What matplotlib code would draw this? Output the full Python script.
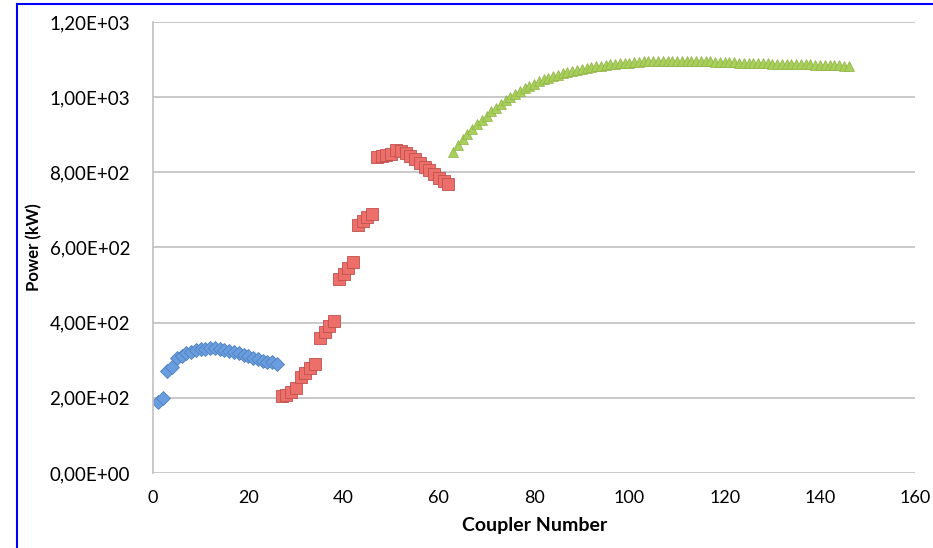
import numpy as np
from matplotlib import pyplot as plt
from matplotlib.lines import Line2D

# Coupler power data (kW)
blue_x = list(range(1, 27))
blue_y = [190, 200, 272, 283, 305, 312, 318, 322, 326, 329, 331, 332, 332,
          330, 328, 325, 322, 319, 315, 311, 306, 302, 298, 295, 294, 290]

red_x = list(range(27, 63))
red_y = [205, 208, 215, 225, 255, 265, 278, 290, 360, 375, 390, 405,
         515, 530, 545, 560, 660, 670, 680, 690, 840, 843, 846, 848,
         860, 857, 850, 843, 835, 825, 815, 805, 795, 785, 777, 770]

green_x = list(range(63, 147))
green_y = [855, 872, 888, 902, 915, 928, 940, 951, 962, 972, 982, 991,
           1000, 1008, 1016, 1023, 1030, 1036, 1042, 1047, 1052, 1056, 1060, 1064,
           1067, 1070, 1073, 1076, 1078, 1080, 1082, 1084, 1086, 1087, 1089, 1090,
           1091, 1092, 1093, 1094, 1095, 1096, 1096, 1097, 1097, 1097, 1097, 1097,
           1097, 1096, 1096, 1096, 1095, 1095, 1095, 1094, 1094, 1094, 1093, 1093,
           1092, 1092, 1091, 1091, 1091, 1090, 1090, 1089, 1089, 1089, 1088, 1088,
           1088, 1087, 1087, 1087, 1086, 1086, 1086, 1085, 1085, 1085, 1084, 1083]

x_ticks = [0, 20, 40, 60, 80, 100, 120, 140, 160]
y_ticks = [0, 200, 400, 600, 800, 1000, 1200]

plt.rcParams['font.family'] = ['Lato', 'DejaVu Sans']

fig = plt.figure(figsize=(9.33, 5.48), dpi=100)
ax = fig.add_axes([0.164, 0.137, 0.817, 0.823])

ax.plot(blue_x, blue_y, 'D', color='#6a9de0', markeredgecolor='#4f81bd',
        markeredgewidth=0.6, markersize=7, linestyle='none')
ax.plot(red_x, red_y, 's', color='#ec6f6a', markeredgecolor='#c0504d',
        markeredgewidth=0.6, markersize=8, linestyle='none')
ax.plot(green_x, green_y, '^', color='#a8cf5a', markeredgecolor='#8fb347',
        markeredgewidth=0.5, markersize=7.5, linestyle='none')

def sci_comma(v):
    s = '%.2E' % v
    return s.replace('.', ',')

ax.set_xlim(0, 160)
ax.set_ylim(0, 1200)
ax.set_xticks(x_ticks)
ax.set_yticks(y_ticks)
ax.set_yticklabels([sci_comma(v) for v in y_ticks])
ax.tick_params(length=0, labelsize=13)
ax.tick_params(axis='x', pad=12)
ax.tick_params(axis='y', pad=16.5, labelsize=13.5)
ax.yaxis.grid(True, color='#c0c0c0', linewidth=1.2)
ax.set_axisbelow(True)
for side in ['top', 'right', 'bottom']:
    ax.spines[side].set_visible(False)
ax.spines['left'].set_color('#c0c0c0')
ax.spines['left'].set_linewidth(1.2)

ax.set_xlabel('Coupler Number', fontsize=14, fontweight='bold', labelpad=8)
ax.set_ylabel('Power (kW)', fontsize=12, fontweight='bold', labelpad=5)

# blue frame around the picture (left and top edges)
fig.add_artist(Line2D([17 / 933, 17 / 933], [0, 1 - 4 / 548], color='blue', linewidth=1.5,
                      transform=fig.transFigure))
fig.add_artist(Line2D([17 / 933, 1], [1 - 4 / 548, 1 - 4 / 548], color='blue', linewidth=1.5,
                      transform=fig.transFigure))

fig.savefig('out.png', dpi=100)
